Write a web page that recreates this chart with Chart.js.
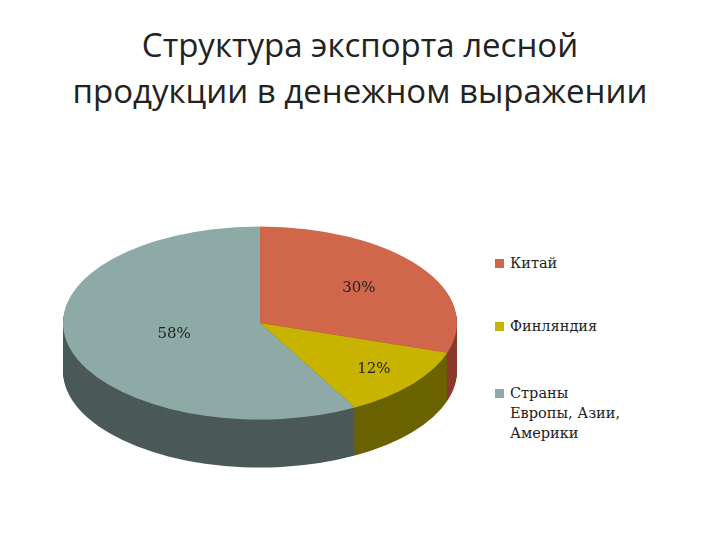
<!DOCTYPE html>
<html><head><meta charset="utf-8">
<script src="https://cdn.jsdelivr.net/npm/chart.js@4"></script>
<style>
body{margin:0;width:720px;height:540px;background:#fff;position:relative;overflow:hidden}
#title{position:absolute;left:0;top:22px;width:720px;text-align:center;font-family:"Open Sans",sans-serif;font-size:33px;line-height:46px;color:#222}
#wrap{position:absolute;left:60px;top:123px;width:400px;height:400px}
.lg{position:absolute;left:495px;font-family:"DejaVu Serif",serif;font-size:14.5px;color:#222;line-height:20px}
.sw{position:absolute;left:0;top:6px;width:9px;height:9px}
.lg span{display:block;padding-left:15px}
</style></head><body>
<div id="title">Структура экспорта лесной<br>продукции в денежном выражении</div>
<div id="wrap"><canvas id="c"></canvas></div>
<div id="legend"></div>
<script>
const categories=["Китай","Финляндия","Страны Европы, Азии, Америки"];
const legendLabels=[["Китай"],["Финляндия"],["Страны","Европы, Азии,","Америки"]];
const values=[30,12,58];
const topColors=["#d0664a","#c8b400","#8daaa6"];
const sideColors=["#8a3b2b","#6b6200","#4b5a58"];
const legendTops=[253,316,383];
const SY=0.49, DEPTH=48;
const lg=document.getElementById('legend');
categories.forEach((c,i)=>{const d=document.createElement('div');d.className='lg';d.style.top=legendTops[i]+'px';
d.innerHTML='<div class="sw" style="background:'+topColors[i]+'"></div><span>'+legendLabels[i].join('<br>')+'</span>';lg.appendChild(d);});
const pie3d={id:'pie3d',
beforeDatasetsDraw(chart){const ctx=chart.ctx;const arcs=chart.getDatasetMeta(0).data;const cx=arcs[0].x,cy=arcs[0].y;
ctx.save();ctx.translate(cx,cy);ctx.scale(1,SY);ctx.translate(-cx,-cy);
for(let d=DEPTH;d>0;d-=1){ctx.save();ctx.translate(0,d/SY);
arcs.forEach((a,i)=>{const old=a.options;a.options=Object.assign({},old,{backgroundColor:sideColors[i],borderWidth:0});a.draw(ctx);a.options=old;});
ctx.restore();}},
afterDatasetsDraw(chart){const ctx=chart.ctx;ctx.restore();
const arcs=chart.getDatasetMeta(0).data;
ctx.save();ctx.font='15px "DejaVu Serif", serif';ctx.fillStyle='#222';ctx.textAlign='center';ctx.textBaseline='middle';
arcs.forEach((a,i)=>{const m=(a.startAngle+a.endAngle)/2;const f=i==2?0.45:(i==1?0.75:0.62);
const px=a.x+Math.cos(m)*a.outerRadius*f;const py=a.y+Math.sin(m)*a.outerRadius*f*SY;
ctx.fillText(values[i]+'%',px,py);});ctx.restore();}};
new Chart(document.getElementById('c'),{type:'pie',
data:{labels:categories,datasets:[{data:values,backgroundColor:topColors,borderWidth:0}]},
options:{responsive:true,maintainAspectRatio:false,animation:false,layout:{padding:3},
plugins:{legend:{display:false},tooltip:{enabled:false}}},plugins:[pie3d]});
</script></body></html>
